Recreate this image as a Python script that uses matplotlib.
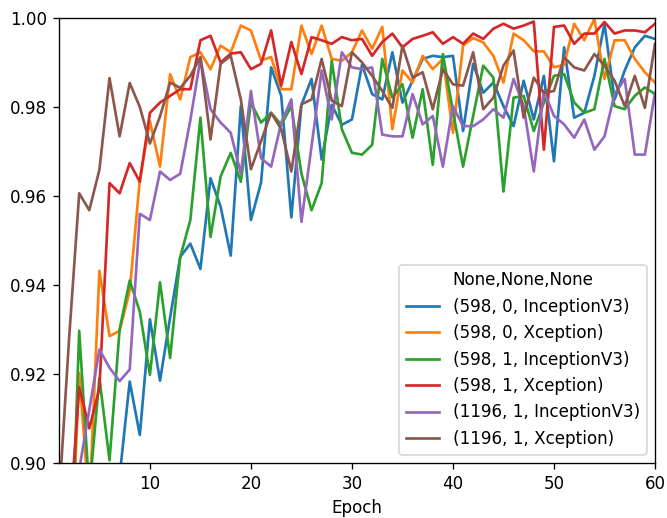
import matplotlib
matplotlib.use("Agg")
import matplotlib.pyplot as plt
import numpy as np

epochs = list(range(1, 61))

labels = ["(598, 0, InceptionV3)", "(598, 0, Xception)", "(598, 1, InceptionV3)",
          "(598, 1, Xception)", "(1196, 1, InceptionV3)", "(1196, 1, Xception)"]

s598_0_incep = [0.80, 0.83, 0.85, 0.86, 0.87, 0.88, 0.897, 0.9183, 0.9063, 0.9323,
                0.9185, 0.9327, 0.9463, 0.9493, 0.9436, 0.964, 0.9576, 0.9466, 0.9802, 0.9546,
                0.963, 0.9889, 0.9825, 0.9552, 0.9805, 0.9863, 0.9682, 0.9805, 0.976, 0.9772,
                0.9895, 0.9829, 0.9817, 0.9923, 0.981, 0.9859, 0.9908, 0.9915, 0.9912, 0.9915,
                0.9746, 0.9897, 0.9832, 0.9855, 0.9802, 0.9757, 0.9859, 0.9772, 0.987, 0.9678,
                0.9934, 0.9776, 0.9787, 0.987, 0.9987, 0.9817, 0.9882, 0.9934, 0.996, 0.9953]

s598_0_xcep = [0.85, 0.866, 0.9202, 0.890, 0.9432, 0.9285, 0.9297, 0.9387, 0.9636, 0.9768,
               0.9666, 0.9874, 0.9817, 0.9912, 0.9923, 0.9885, 0.9938, 0.9923, 0.9983, 0.9972,
               0.9905, 0.9912, 0.984, 0.984, 0.9983, 0.9919, 0.9983, 0.9908, 0.9904, 0.9923,
               0.9972, 0.9931, 0.998, 0.975, 0.9882, 0.9855, 0.9915, 0.9885, 0.9908, 0.9742,
               0.9938, 0.9955, 0.9945, 0.9915, 0.9855, 0.9965, 0.995, 0.9925, 0.9925, 0.9889,
               0.9895, 0.9987, 0.995, 0.9998, 0.9863, 0.995, 0.995, 0.9908, 0.9878, 0.9855]

s598_1_incep = [0.84, 0.863, 0.9297, 0.8936, 0.9191, 0.9006, 0.930, 0.941, 0.934, 0.9198,
                0.9406, 0.9236, 0.9463, 0.9546, 0.9776, 0.9508, 0.9644, 0.9697, 0.9632, 0.981,
                0.9765, 0.9787, 0.976, 0.9802, 0.965, 0.9568, 0.9629, 0.9904, 0.975, 0.9697,
                0.9693, 0.9715, 0.9908, 0.9821, 0.9851, 0.9731, 0.984, 0.967, 0.9919, 0.979,
                0.9666, 0.978, 0.9893, 0.9866, 0.961, 0.9821, 0.9825, 0.9746, 0.981, 0.987,
                0.9874, 0.981, 0.9787, 0.9795, 0.9908, 0.9802, 0.9795, 0.9825, 0.9844, 0.9829]

s598_1_xcep = [0.86, 0.885, 0.917, 0.9078, 0.9168, 0.9629, 0.9606, 0.9674, 0.9632, 0.9787,
               0.981, 0.9825, 0.984, 0.984, 0.995, 0.996, 0.990, 0.992, 0.9923, 0.9885,
               0.9897, 0.9972, 0.9848, 0.9946, 0.9874, 0.9957, 0.995, 0.9942, 0.9957, 0.995,
               0.9953, 0.9915, 0.9946, 0.9965, 0.9934, 0.9953, 0.996, 0.9968, 0.9942, 0.9957,
               0.9942, 0.9965, 0.9953, 0.9976, 0.9987, 0.9976, 0.9983, 0.9992, 0.9704, 0.998,
               0.9983, 0.9942, 0.9965, 0.9965, 0.9991, 0.9965, 0.9972, 0.9972, 0.9968, 0.9987]

s1196_1_incep = [0.86, 0.875, 0.8985, 0.912, 0.9255, 0.9214, 0.9184, 0.921, 0.956, 0.9546,
                 0.9655, 0.9636, 0.965, 0.977, 0.9908, 0.9795, 0.9765, 0.9742, 0.965, 0.9836,
                 0.9685, 0.9666, 0.9765, 0.9817, 0.9542, 0.9712, 0.9882, 0.9772, 0.9923, 0.9889,
                 0.9885, 0.9889, 0.9738, 0.9734, 0.9734, 0.9829, 0.9761, 0.978, 0.9666, 0.9802,
                 0.9757, 0.9757, 0.9772, 0.9795, 0.9776, 0.9863, 0.9802, 0.9655, 0.9836, 0.978,
                 0.9761, 0.9731, 0.9772, 0.9704, 0.9734, 0.9829, 0.9863, 0.9693, 0.9693, 0.9832]

s1196_1_xcep = [0.8915, 0.928, 0.9606, 0.9568, 0.9659, 0.9865, 0.9734, 0.9854, 0.980, 0.9718,
                0.9779, 0.9855, 0.9843, 0.987, 0.9912, 0.9727, 0.9897, 0.9915, 0.9817, 0.966,
                0.9723, 0.9787, 0.975, 0.9655, 0.9806, 0.9817, 0.9908, 0.9814, 0.9802, 0.9923,
                0.99, 0.987, 0.9836, 0.9798, 0.9938, 0.9866, 0.9878, 0.9795, 0.9885, 0.9851,
                0.9848, 0.9923, 0.9795, 0.9821, 0.9893, 0.9927, 0.9776, 0.9866, 0.9832, 0.9836,
                0.9912, 0.9889, 0.9882, 0.9919, 0.9893, 0.9859, 0.9802, 0.987, 0.9798, 0.9942]

series = [s598_0_incep, s598_0_xcep, s598_1_incep, s598_1_xcep, s1196_1_incep, s1196_1_xcep]

dpi = 121
fig = plt.figure(figsize=(667 / dpi, 518 / dpi), dpi=dpi)
ax = fig.add_axes([59 / 667, 55 / 518, 596 / 667, 445 / 518])

for vals, lab in zip(series, labels):
    ax.plot(epochs, vals, label=lab, linewidth=1.6)

ax.set_xlim(1, 60)
ax.set_ylim(0.90, 1.00)
ax.set_yticks([0.90, 0.92, 0.94, 0.96, 0.98, 1.00])
ax.set_xticks([10, 20, 30, 40, 50, 60])
ax.set_xlabel("Epoch")
ax.legend(title="None,None,None", loc="lower right")

fig.savefig("out.png", dpi=dpi)
